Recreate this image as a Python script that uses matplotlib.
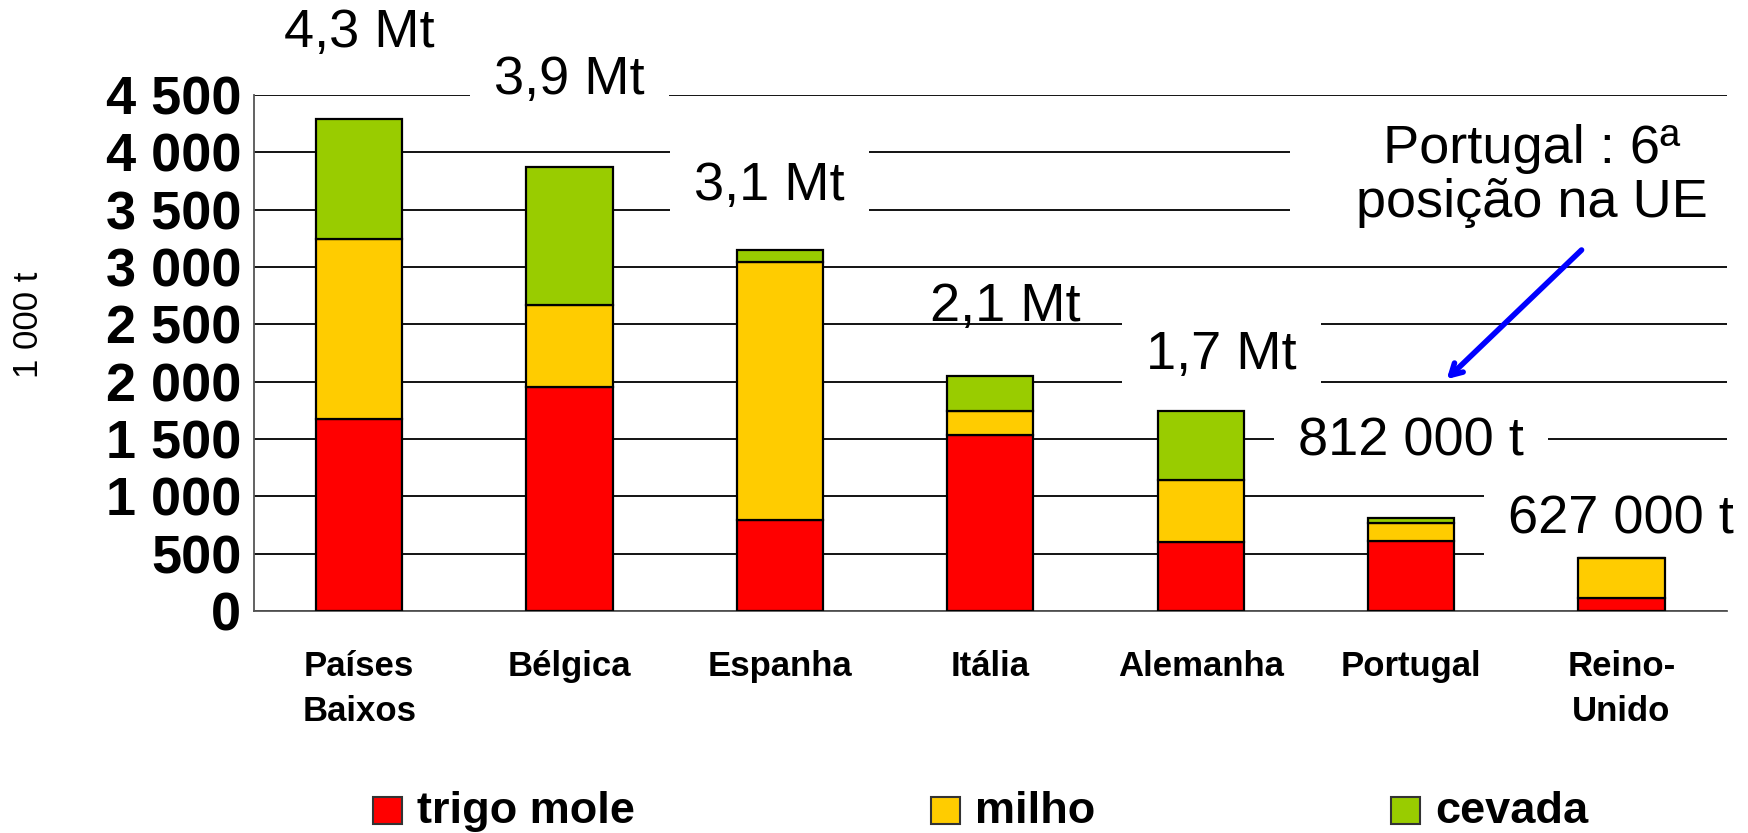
import matplotlib
matplotlib.use("Agg")
import matplotlib.pyplot as plt
from matplotlib.patches import Rectangle
import numpy as np

plt.rcParams['font.family'] = ['Liberation Sans', 'DejaVu Sans']

# ===== DATA (1 000 t) =====
countries = ['Países\nBaixos', 'Bélgica', 'Espanha', 'Itália', 'Alemanha', 'Portugal', 'Reino-\nUnido']
trigo_mole = [1675, 1955, 795, 1535, 600, 610, 110]
milho = [1565, 715, 2245, 210, 540, 160, 355]
cevada = [1050, 1200, 105, 305, 605, 40, 0]

series_names = ['trigo mole', 'milho', 'cevada']
series_colors = ['#FF0000', '#FFCC00', '#99CC00']

yticks = [0, 500, 1000, 1500, 2000, 2500, 3000, 3500, 4000, 4500]
ytick_labels = ['0', '500', '1 000', '1 500', '2 000', '2 500', '3 000', '3 500', '4 000', '4 500']

total_labels = ['4,3 Mt', '3,9 Mt', '3,1 Mt', '2,1 Mt', '1,7 Mt', '812 000 t', '627 000 t']

# label placement (x offset from bar, y position in data units, white box or not)
label_dx = [0.0, 0.0, -0.05, 0.07, 0.1, 0.0, 0.0]
label_y = [5040, 4630, 3710, 2650, 2230, 1480, 800]
label_box = [True, True, True, False, True, True, True]

# ===== FIGURE =====
fig = plt.figure(figsize=(17.49, 8.33), dpi=100)
ax = fig.add_axes([0.1452, 0.2665, 0.842, 0.6195])

x = np.arange(len(countries))
width = 0.41
bottom = np.zeros(len(countries))
for vals, name, col in zip([trigo_mole, milho, cevada], series_names, series_colors):
    vals = np.array(vals, dtype=float)
    ax.bar(x, vals, width, bottom=bottom, color=col, edgecolor='black',
           linewidth=1.6, label=name, zorder=4)
    bottom += vals

ax.set_xlim(-0.5, len(countries) - 0.5)
ax.set_ylim(0, 4500)
ax.set_yticks(yticks)
ax.set_yticklabels(ytick_labels, fontsize=39, fontweight='bold')
ax.set_xticks(x)
ax.set_xticklabels(countries, fontsize=25, fontweight='bold', linespacing=1.45)
ax.tick_params(axis='y', length=0, pad=9)
ax.tick_params(axis='x', length=0, pad=28)

ax.set_axisbelow(True)
ax.grid(True, axis='y', color='black', linewidth=1.3)
for side in ['top', 'right']:
    ax.spines[side].set_visible(False)
for side in ['left', 'bottom']:
    ax.spines[side].set_color('#555555')
    ax.spines[side].set_linewidth(1.3)

ax.set_ylabel('1 000 t', fontsize=25)
ax.yaxis.set_label_coords(-0.142, 0.554)

# total labels above bars
for i, lab in enumerate(total_labels):
    kw = {}
    if label_box[i]:
        kw['bbox'] = dict(boxstyle='square,pad=0.45', facecolor='white', edgecolor='none')
    ax.text(x[i] + label_dx[i], label_y[i], lab, fontsize=39, ha='center', va='center',
            zorder=3, clip_on=False, **kw)

# Portugal note with arrow (nbsp padding so the white box hides the grid)
nb = '\u00a0' * 4
note_x, note_y = 6.48, 3790
ax.text(note_x, note_y, nb + 'Portugal : 6ª\u00a0\n' + nb + 'posição na UE\u00a0',
        fontsize=39, ha='right', va='center', multialignment='center',
        linespacing=1.1, zorder=3, clip_on=False,
        bbox=dict(boxstyle='square,pad=0.1', facecolor='white', edgecolor='none'))
ax.annotate('', xy=(5.16, 2005), xytext=(5.82, 3165),
            arrowprops=dict(arrowstyle='->,head_length=0.8,head_width=0.45',
                            color='#0000FF', lw=4), zorder=5)

# legend: three entries spread across the bottom
leg_x = [0.2133, 0.5323, 0.7953]
for lx, name, col in zip(leg_x, series_names, series_colors):
    fig.add_artist(Rectangle((lx, 0.0108), 0.0166, 0.0324, transform=fig.transFigure,
                             facecolor=col, edgecolor='#333333', linewidth=1.5))
    fig.text(lx + 0.0252, 0.012, name, fontsize=32.5, fontweight='bold',
             ha='left', va='baseline')

plt.savefig('out.png', dpi=100)
